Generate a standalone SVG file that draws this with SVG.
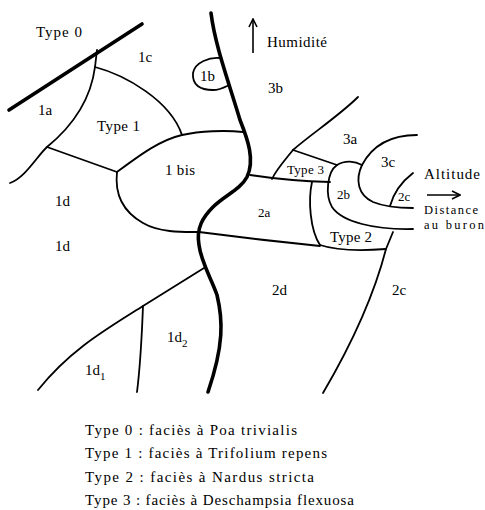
<svg xmlns="http://www.w3.org/2000/svg" width="485" height="510" viewBox="0 0 485 510">
<defs>
<style>
.thin{fill:none;stroke:#000;stroke-width:1.8;stroke-linecap:round;stroke-linejoin:round}
.thick{fill:none;stroke:#000;stroke-width:3.6;stroke-linecap:round;stroke-linejoin:round}
.arr{fill:none;stroke:#000;stroke-width:1.6}
text{font-family:"Liberation Serif","DejaVu Serif",serif;font-size:15px;fill:#000}
.sm{font-size:13px}
.xs{font-size:12.5px}
.leg{font-size:15px}
</style>
<marker id="head" viewBox="0 0 10 10" refX="9" refY="5" markerWidth="10" markerHeight="10" markerUnits="userSpaceOnUse" orient="auto">
<path d="M1,1 L9,5 L1,9" fill="none" stroke="#000" stroke-width="1.6"/>
</marker>
</defs>
<rect width="485" height="510" fill="#fff"/>

<g id="boundaries">
<path class="thick" d="M9,110 L142,24"/>
<path class="thick" d="M211,13 C215,45 228,80 240,120 C248,140 255,160 247,177 C240,190 225,195 213,207 C203,217 196,228 199,245 C201,262 212,280 217,295 C223,320 224,345 208,392"/>
<path class="thin" d="M97,50 L95,67"/>
<path class="thin" d="M95,67 C92,90 80,120 47,147 C38,155 25,178 10,183"/>
<path class="thin" d="M95,67 C125,75 170,100 182,135"/>
<path class="thin" d="M47,147 L117,172"/>
<path class="thin" d="M117,172 C140,155 160,140 182,135 C200,131 225,130 243,132"/>
<path class="thin" d="M117,172 C115,190 120,210 143,223 C160,233 185,232 199,232"/>
<path class="thin" d="M199,232 Q260,240 320,246"/>
<path class="thin" d="M250,175 Q290,181 330,182"/>
<path class="thin" d="M358,97 C340,115 310,135 293,150"/>
<path class="thin" d="M293,150 C285,160 276,170 272,179"/>
<path class="thin" d="M293,150 L337,165"/>
<path class="thin" d="M337,165 C345,160 355,161 362,165"/>
<path class="thin" d="M337,165 C327,172 325,195 332,207 C342,222 375,230 413,229"/>
<path class="thin" d="M362,165 C370,150 385,135 417,135"/>
<path class="thin" d="M362,165 C355,180 358,195 373,202 C385,207 400,208 413,208"/>
<path class="thin" d="M390,206 C393,195 400,183 413,173"/>
<path class="thin" d="M312,182 C308,200 310,230 320,245"/>
<path class="thin" d="M320,245 C335,250 360,251 386,249"/>
<path class="thin" d="M393,232 L386,249 C378,280 360,330 323,393"/>
<path class="thin" d="M220,58 C210,57 195,62 193,73 C192,85 200,90 213,90 C220,90 225,87 229,85"/>
<path class="thin" d="M204,268 L143,306 C105,330 70,350 38,390"/>
<path class="thin" d="M143,306 C142,330 141,360 137,392"/>
</g>

<g id="arrows">
<path class="arr" d="M253,53 L253,19" marker-end="url(#head)"/>
<path class="arr" d="M427,195 L460,195" marker-end="url(#head)"/>
</g>

<g id="labels">
<text x="36" y="37" textLength="46">Type 0</text>
<text x="138" y="62">1c</text>
<text x="200" y="81">1b</text>
<text x="38" y="115">1a</text>
<text x="97" y="131" textLength="43">Type 1</text>
<text x="165" y="175" textLength="30">1 bis</text>
<text x="267" y="47" textLength="60">Humidité</text>
<text x="268" y="93">3b</text>
<text x="343" y="144">3a</text>
<text class="sm" x="287" y="174" textLength="37">Type 3</text>
<text x="381" y="167">3c</text>
<text class="sm" x="337" y="199">2b</text>
<text class="sm" x="398" y="201">2c</text>
<text x="330" y="242" textLength="42">Type 2</text>
<text x="424" y="179" textLength="56">Altitude</text>
<text class="xs" x="424" y="214" textLength="54">Distance</text>
<text class="xs" x="424" y="229" textLength="60">au buron</text>
<text class="sm" x="258" y="217">2a</text>
<text x="55" y="206">1d</text>
<text x="55" y="251">1d</text>
<text x="272" y="295">2d</text>
<text x="392" y="295">2c</text>
<text x="167" y="342">1d<tspan font-size="11" dy="5">2</tspan></text>
<text x="85" y="375">1d<tspan font-size="11" dy="5">1</tspan></text>
</g>

<g id="legend">
<text class="leg" x="85" y="435" textLength="212">Type 0 : faciès à Poa trivialis</text>
<text class="leg" x="85" y="458" textLength="242">Type 1 : faciès à Trifolium repens</text>
<text class="leg" x="85" y="482" textLength="229">Type 2 : faciès à Nardus stricta</text>
<text class="leg" x="85" y="505" textLength="269">Type 3 : faciès à Deschampsia flexuosa</text>
</g>
</svg>
